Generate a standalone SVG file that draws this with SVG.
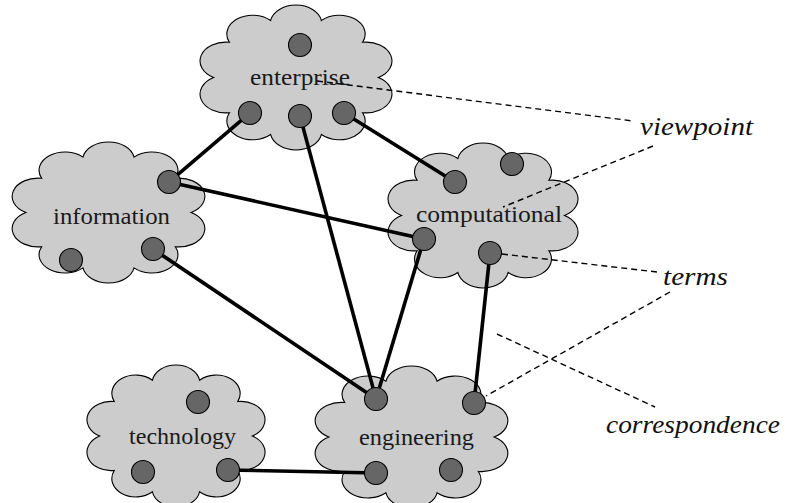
<svg xmlns="http://www.w3.org/2000/svg" xmlns:xlink="http://www.w3.org/1999/xlink" width="790" height="503" viewBox="0 0 790 503">
<style>
.cloud{fill:#cccccc;stroke:#000;stroke-width:1.1;vector-effect:non-scaling-stroke}
.dot{fill:#666666;stroke:#000;stroke-width:1.1}
.lbl{font-family:"Liberation Serif","Times New Roman",serif;font-size:24px;fill:#1a1a1a}
.it{font-family:"Liberation Serif","Times New Roman",serif;font-style:italic;font-size:26px;fill:#111}
.thick{stroke:#000;stroke-width:3.6;stroke-linecap:butt;fill:none}
.dash{stroke:#000;stroke-width:1.4;stroke-dasharray:6 4;fill:none}
</style>
<defs>
<path id="cloud" class="cloud" d="M25.52,-78.56 A25.92 25.92 0 0 1 66.82,-48.55 A25.92 25.92 0 0 1 82.6,0 A25.92 25.92 0 0 1 66.82,48.55 A25.92 25.92 0 0 1 25.52,78.56 A25.92 25.92 0 0 1 -25.52,78.56 A25.92 25.92 0 0 1 -66.82,48.55 A25.92 25.92 0 0 1 -82.6,0 A25.92 25.92 0 0 1 -66.82,-48.55 A25.92 25.92 0 0 1 -25.52,-78.56 A25.92 25.92 0 0 1 25.52,-78.56 Z"/>
</defs>
<rect width="790" height="503" fill="#fff"/>
<g id="enterprise">
<use xlink:href="#cloud" href="#cloud" transform="translate(296 77.5) scale(0.996 0.725)"/>
<text class="lbl" x="250" y="85" textLength="100" lengthAdjust="spacingAndGlyphs">enterprise</text>
<circle class="dot" cx="300" cy="45" r="11.5"/>
<circle class="dot" cx="250" cy="113" r="11.5"/>
<circle class="dot" cx="300" cy="116" r="11.5"/>
<circle class="dot" cx="344" cy="113" r="11.5"/>
</g>
<g id="information">
<use xlink:href="#cloud" href="#cloud" transform="translate(108.5 212.5) scale(1.0 0.705)"/>
<text class="lbl" x="53" y="224" textLength="117" lengthAdjust="spacingAndGlyphs">information</text>
<circle class="dot" cx="169" cy="182" r="11.5"/>
<circle class="dot" cx="153" cy="249" r="11.5"/>
<circle class="dot" cx="71" cy="260" r="11.5"/>
</g>
<g id="computational">
<use xlink:href="#cloud" href="#cloud" transform="translate(483 215.5) scale(0.986 0.725)"/>
<text class="lbl" x="416" y="222" textLength="146" lengthAdjust="spacingAndGlyphs">computational</text>
<circle class="dot" cx="455" cy="182" r="11.5"/>
<circle class="dot" cx="512" cy="164" r="11.5"/>
<circle class="dot" cx="424" cy="239" r="11.5"/>
<circle class="dot" cx="490" cy="253" r="11.5"/>
</g>
<g id="technology">
<use xlink:href="#cloud" href="#cloud" transform="translate(176 436) scale(0.924 0.71)"/>
<text class="lbl" x="129" y="444" textLength="107" lengthAdjust="spacingAndGlyphs">technology</text>
<circle class="dot" cx="198" cy="402" r="11.5"/>
<circle class="dot" cx="143" cy="472" r="11.5"/>
<circle class="dot" cx="228" cy="470" r="11.5"/>
</g>
<g id="engineering">
<use xlink:href="#cloud" href="#cloud" transform="translate(411.5 437) scale(1.0 0.71)"/>
<text class="lbl" x="359" y="445" textLength="115" lengthAdjust="spacingAndGlyphs">engineering</text>
<circle class="dot" cx="376" cy="399" r="11.5"/>
<circle class="dot" cx="474" cy="403" r="11.5"/>
<circle class="dot" cx="376" cy="473" r="11.5"/>
<circle class="dot" cx="451" cy="470" r="11.5"/>
</g>
<g id="connectors">
<line class="thick" x1="241.25" y1="120.46" x2="177.75" y2="174.54"/>
<line class="thick" x1="353.77" y1="119.07" x2="445.23" y2="175.93"/>
<line class="thick" x1="302.98" y1="127.11" x2="373.02" y2="387.89"/>
<line class="thick" x1="180.22" y1="184.51" x2="412.78" y2="236.49"/>
<line class="thick" x1="162.54" y1="255.42" x2="366.46" y2="392.58"/>
<line class="thick" x1="420.69" y1="250.02" x2="379.31" y2="387.98"/>
<line class="thick" x1="488.78" y1="264.44" x2="475.22" y2="391.56"/>
<line class="thick" x1="239.5" y1="470.23" x2="364.5" y2="472.77"/>
<line class="dash" x1="317" y1="81" x2="633" y2="121"/>
<line class="dash" x1="653" y1="146" x2="503" y2="207"/>
<line class="dash" x1="502" y1="254" x2="657" y2="272"/>
<line class="dash" x1="670" y1="292" x2="486" y2="396"/>
<line class="dash" x1="497" y1="334" x2="655" y2="407"/>
</g>
<g id="labels">
<text class="it" x="640" y="135" textLength="113" lengthAdjust="spacingAndGlyphs">viewpoint</text>
<text class="it" x="663" y="285" textLength="65" lengthAdjust="spacingAndGlyphs">terms</text>
<text class="it" x="606" y="433" textLength="174" lengthAdjust="spacingAndGlyphs">correspondence</text>
</g>
</svg>
